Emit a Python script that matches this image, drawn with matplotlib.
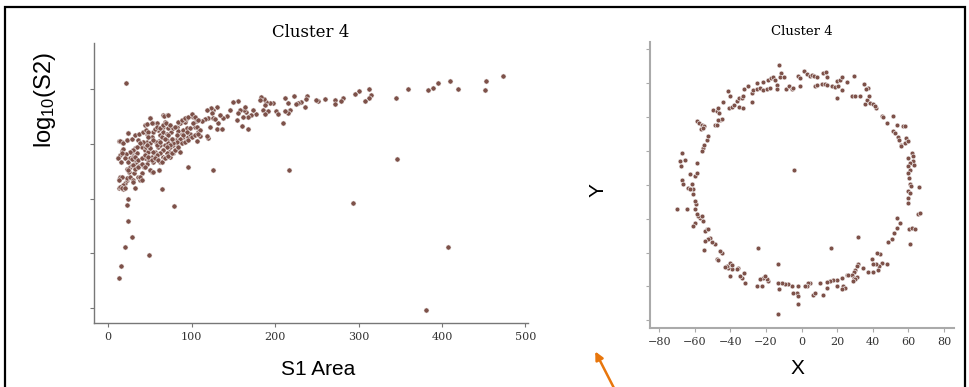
import matplotlib.pyplot as plt
from matplotlib.patches import Rectangle, FancyArrowPatch

# ---------- Cluster 4: S1 area vs log10(S2) ----------

s1_area = [
    21.5, 12.7, 15.1, 20.7, 28.3, 24.3, 23.1, 23.5, 49.4, 78.9, 64.1, 96.0, 125.9, 216.7,
    293.2, 345.8, 406.8, 380.9, 473.3, 452.6, 451.8, 418.7, 409.6, 394.8, 389.6, 382.9,
    359.0, 345.0, 313.1, 300.4, 295.2, 315.1, 313.1, 307.9, 281.3, 279.3, 271.3, 271.3,
    259.4, 251.4, 248.6, 238.6, 237.5, 231.5, 227.5, 222.7, 215.5, 211.6, 235.5, 225.5,
    218.3, 215.5, 211.6, 209.6, 201.6, 203.6, 197.6, 193.6, 189.6, 186.5, 183.7, 181.7,
    187.6, 185.7, 191.6, 187.6, 176.9, 173.7, 171.7, 167.7, 165.7, 162.5, 164.5, 157.8,
    155.8, 153.8, 161.8, 159.8, 167.7, 155.8, 149.8, 145.8, 141.8, 137.8, 133.9, 131.9,
    130.7, 135.9, 129.9, 125.9, 122.7, 117.9, 123.9, 119.9, 125.1, 127.9, 121.9, 119.9,
    117.9, 115.9, 111.9, 107.9, 105.2, 102.0, 100.0, 104.0, 106.8, 107.9, 109.9, 105.9,
    109.9,
    11.2, 14.3, 16.3, 13.5, 16.3, 23.5, 22.3, 12.4, 14.3, 13.5, 16.3, 18.3, 17.5, 20.7,
    22.3, 24.3, 23.1, 26.3, 28.3, 25.5, 26.3, 28.3, 30.3, 29.5, 32.3, 34.3, 31.1, 33.5,
    34.3, 36.3, 31.1, 36.3, 38.2, 40.2, 37.5, 36.3, 38.2, 40.2, 42.2, 44.2, 45.4, 46.2,
    48.2, 49.4, 50.2, 52.2, 53.4, 54.2, 48.2, 46.2, 43.0, 44.2, 50.2, 52.2, 56.2, 57.4,
    58.2, 60.2, 62.2, 61.4, 62.2, 64.1, 60.2, 54.2, 52.2, 57.4, 46.2, 44.2, 50.2, 53.4,
    58.2, 66.1, 70.1, 68.1, 65.3, 66.1, 70.1, 70.9, 68.1, 72.1, 74.1, 73.3, 70.1, 66.1,
    65.3, 62.2, 61.4, 68.1, 74.1, 78.1, 80.1, 77.3, 82.1, 81.3, 76.1, 74.9, 72.1, 78.1,
    82.1, 84.1, 86.1, 88.0, 90.0, 94.0, 92.0, 93.2, 90.0, 86.1, 84.1, 86.1, 94.0, 96.0,
    98.0,
    50.2, 66.9, 72.1, 46.2, 53.0, 24.3, 14.3, 17.5, 22.3, 28.3, 32.3, 37.5, 42.2, 45.0,
    48.2, 56.2, 58.2, 62.2, 66.1, 69.3, 74.1, 80.1, 84.1, 88.0, 92.0, 96.0, 100.0, 104.0,
    108.0, 102.0, 98.0, 94.0, 90.0, 86.1, 82.1, 78.1, 74.1, 70.1, 66.1, 62.2, 58.2, 54.2,
    50.2, 46.2, 42.2, 38.2, 34.3, 30.3, 26.3, 21.5, 18.3, 16.3, 11.2, 15.1, 20.3, 24.3,
    28.3, 32.3, 36.3, 40.2, 44.2, 48.2, 52.2, 56.2, 60.2, 64.1, 68.1, 72.1, 76.1, 80.1,
    84.1, 88.0, 92.0, 96.0, 100.0, 104.0, 108.0, 76.1, 82.1, 72.1, 68.1, 48.2, 54.2, 58.2,
    62.2, 29.5, 32.3, 36.3, 40.2, 44.2, 50.2, 54.2, 61.4, 24.3, 22.3, 26.3, 29.5, 16.3,
    12.4, 18.3, 14.3, 16.3, 20.3, 30.3, 38.2, 40.2, 32.3,
]
log_s2 = [
    6.12, 2.54, 2.76, 3.12, 3.30, 3.59, 3.88, 3.99, 2.96, 3.87, 4.17, 4.58, 4.52, 4.52,
    3.92, 4.73, 3.11, 1.95, 6.24, 6.16, 5.98, 6.01, 6.15, 6.12, 6.02, 5.98,
    6.01, 5.85, 6.01, 5.97, 5.91, 5.89, 5.84, 5.79, 5.85, 5.79, 5.80, 5.74,
    5.83, 5.79, 5.81, 5.88, 5.82, 5.77, 5.75, 5.87, 5.75, 5.84, 5.68, 5.74,
    5.62, 5.57, 5.60, 5.39, 5.60, 5.55, 5.75, 5.75, 5.77, 5.83, 5.86, 5.80,
    5.72, 5.62, 5.60, 5.54, 5.55, 5.62, 5.53, 5.50, 5.59, 5.62, 5.68, 5.62,
    5.57, 5.44, 5.50, 5.33, 5.28, 5.79, 5.77, 5.62, 5.51, 5.48, 5.53, 5.38,
    5.27, 5.27, 5.68, 5.63, 5.66, 5.62, 5.56, 5.47, 5.48, 5.45, 5.31, 5.11,
    5.14, 5.45, 5.42, 5.43, 5.42, 5.50, 5.52, 5.31, 5.31, 5.22, 5.25, 5.06,
    5.14,
    4.75, 4.80, 4.88, 5.05, 5.04, 5.21, 5.07, 4.36, 4.40, 4.20, 4.19, 4.17, 4.23, 4.28,
    4.34, 4.38, 4.55, 4.58, 4.61, 4.49, 4.74, 4.83, 4.89, 4.77, 4.92, 4.84, 4.71, 4.64,
    4.58, 4.57, 4.46, 4.40, 4.34, 4.46, 4.60, 5.07, 4.98, 4.94, 5.02, 4.89, 4.95, 5.04,
    4.86, 4.94, 5.01, 4.77, 4.71, 4.67, 4.71, 4.64, 4.58, 4.74, 4.52, 4.49, 4.86, 4.80,
    4.74, 4.95, 4.98, 5.06, 5.16, 5.13, 5.26, 5.22, 5.13, 5.04, 5.19, 5.35, 5.47, 5.38,
    5.38, 5.53, 5.53, 5.41, 5.32, 5.22, 5.19, 5.07, 4.98, 5.01, 4.95, 4.86, 4.83, 4.89,
    4.77, 4.67, 4.53, 4.74, 4.77, 4.83, 4.89, 4.98, 5.01, 5.07, 5.10, 5.22, 5.29, 5.29,
    5.32, 5.24, 5.38, 5.19, 5.26, 5.29, 5.41, 5.45, 5.13, 5.07, 4.92, 4.86, 5.08, 5.12,
    5.18,
    5.48, 5.52, 5.53, 5.36, 5.38, 5.21, 5.06, 5.02, 5.07, 5.09, 5.16, 5.19, 5.22, 5.25,
    5.22, 5.27, 5.32, 5.29, 5.35, 5.38, 5.35, 5.32, 5.41, 5.44, 5.47, 5.50, 5.54, 5.50,
    5.44, 5.38, 5.29, 5.22, 5.16, 5.10, 5.04, 5.01, 4.98, 4.95, 4.89, 4.83, 4.80, 4.86,
    4.92, 4.98, 5.04, 5.01, 4.95, 4.89, 4.86, 4.82, 4.90, 4.83, 4.75, 4.67, 4.74, 4.67,
    4.72, 4.77, 4.71, 4.74, 4.80, 4.77, 4.71, 4.75, 4.71, 4.67, 4.74, 4.78, 4.83, 4.89,
    4.95, 5.01, 5.04, 5.07, 5.13, 5.16, 5.19, 5.10, 5.16, 5.16, 5.10, 5.13, 5.07, 4.98,
    5.04, 4.61, 4.55, 4.58, 4.64, 4.58, 4.52, 4.49, 4.53, 4.52, 4.37, 4.40, 4.34, 4.40,
    4.34, 4.25, 4.22, 4.19, 4.20, 4.31, 4.40, 4.34, 4.19,
]

# ---------- Cluster 4: X / Y positions ----------

pos_x = [
    -41.2, -40.2, -40.6, -39.3, -38.0, -36.5, -35.0, -33.7, -32.7, -35.0, -33.1, -32.4,
    -29.9, -28.1, -28.1, -27.1, -25.3, -23.4, -21.9, -25.3, -21.5, -19.6, -17.8, -18.7,
    -17.2, -15.9, -15.0, -14.0, -14.0, -12.5, -11.6, -12.2, -9.9, -8.8, -6.9, -5.6, -4.7,
    -1.9, -0.9, -0.9, 1.3, 2.8, 4.7, 6.0, 7.1, 8.4, 7.5, 8.8, 11.2, 13.1, 14.4, 11.8,
    13.7, 14.0, 16.8, 18.7, 20.6, 20.0, 21.5, 22.8, 25.3, 19.6, 22.5, 29.4, 28.1, 29.9,
    32.7, 35.2, 37.4, 36.1, 35.6, 36.9, 38.4, 39.9, 41.7, 41.2, 38.0, 45.1, 45.5, 51.5,
    53.7, 56.7, 58.0, 47.7, 51.5, 52.4, 54.3, 54.8, 56.1, 56.1, 58.0, 58.9, 59.5,
    61.8, 62.3, 59.9, 62.7, 60.8, 63.1, 59.9, 60.8, 59.9, 60.4, 60.8, 61.4, 59.9, 60.8,
    59.9, 59.9, 66.0, 65.1, 66.4, 60.4, 61.8, 63.6, 60.8, 53.3, 55.2, 53.3, 51.8, 50.5,
    48.7,
    48.1, 44.9, 43.6, 43.0, 41.7, 44.0, 42.1, 39.3, 40.2, 37.4, 34.6, 40.2, 31.8, 31.8,
    30.9, 29.9, 29.4, 28.1, 29.4, 30.9, 29.9, 28.6, 25.3, 26.2, 22.5, 19.6, 17.8, 15.9,
    14.0, 10.3, 16.3, 23.4, 24.3, 22.5, 19.6, 14.0, 12.2, 6.2, 7.5, 4.7, 3.7, 2.8, 1.9,
    -1.9, -2.8, -1.9, -4.7, -1.9, -13.1, -5.6, -7.5, -9.4, -11.2, -13.1, -12.5, -13.5,
    -18.7, -19.6, -21.9, -23.4, -25.3, -22.5, -20.6, -24.3, -31.8, -33.7, -34.6, -32.4,
    -35.6, -36.5, -40.2, -39.3, -41.2, -42.1, -40.2, -43.0, -39.3, -44.9, -47.7, -46.8,
    -45.8, -48.7, -50.5, -51.5, -52.4, -54.3, -53.3, -54.3, -52.4, -54.8, -57.1, -55.6,
    -58.0, -56.1, -59.9, -60.8, -58.9, -59.9, -59.3, -59.9, -60.8, -61.2, -61.8, -62.7,
    -59.9, -58.9, -58.9, -63.6, -62.7, -67.4, -66.8, -70.2, -64.6, -68.3, -67.9, -67.4,
    -65.5, -58.6, -57.4, -56.1, -54.8, -56.7, -55.6, -55.2, -56.1, -54.6, -53.3, -52.4,
    -49.6, -47.7, -47.2, -46.2, -48.5, -47.3, -45.8, -44.9, -44.3, -46.8, -4.1,
]
pos_y = [
    55.6, 52.3, 45.4, 46.0, 47.4, 49.3, 51.3, 51.3, 52.3, 46.0, 45.4, 56.6,
    58.6, 54.3, 48.7, 56.2, 56.6, 57.2, 56.2, 60.1, 60.5, 56.6, 57.2, 62.1,
    63.1, 63.5, 62.1, 59.2, 56.6, 71.0, 66.0, 63.5, 63.5, 56.6, 58.2, 56.6, 57.2,
    64.0, 58.2, 63.1, 67.0, 65.7, 64.5, 65.0, 64.0, 63.7, 58.6, 59.2, 59.8, 59.8, 59.2, 66.0,
    66.4, 63.5, 58.6, 57.8, 58.2, 61.0, 62.0, 63.7, 60.7, 51.3, 56.2, 64.0, 52.7, 52.7,
    52.3, 59.8, 57.2, 56.6, 48.0, 50.3, 48.4, 48.0, 45.4, 46.4, 52.3, 40.5, 40.1, 40.9,
    35.6, 34.6, 34.6, 36.2, 31.6, 30.3, 28.3, 26.7, 23.8, 22.8, 24.8, 27.7, 25.7,
    18.9, 17.3, 15.9, 14.0, 13.0, 11.6, 11.0, 9.0, 6.7, 4.1, 0.2, -0.8, -3.7, -4.7,
    -7.7, -11.0, -1.2, -17.5, -16.5, -26.3, -25.4, -26.3, -35.2, -19.5, -22.4, -25.4, -28.7, -31.8,
    -33.6,
    -47.0, -46.0, -48.0, -50.0, -47.0, -41.0, -40.5, -43.6, -47.0, -51.5, -49.0, -51.3, -30.7, -47.0,
    -48.0, -50.0, -51.5, -53.5, -54.8, -54.3, -55.8, -56.8, -53.5, -53.5, -54.8, -56.2, -56.2, -56.8,
    -57.4, -57.8, -37.2, -59.8, -60.7, -61.3, -59.8, -60.7, -65.3, -65.3, -63.7, -58.2, -57.8, -59.8, -59.8,
    -59.8, -63.7, -65.6, -63.7, -70.6, -76.5, -59.8, -58.8, -58.4, -57.8, -57.8, -61.7, -47.0,
    -56.8, -55.8, -54.8, -55.8, -59.8, -59.8, -53.8, -37.2, -57.8, -54.8, -53.8, -51.8,
    -48.9, -49.9, -53.8, -49.9, -48.9, -48.0, -46.0, -48.4, -47.6, -40.5, -43.6, -44.4,
    -39.1, -35.2, -33.8, -31.3, -32.2, -33.2, -26.3, -27.3, -25.9, -38.5, -19.5, -21.4,
    -18.5, -18.5, -22.4, -24.3, -17.3, -14.5, -11.6, -9.6, -5.7, -2.4, 0.2, 6.1,
    5.1, 7.1, 13.0, -1.8, -2.4, 3.1, 0.2, -14.5, -14.5, 14.0, 11.4, 18.5,
    14.5, 37.5, 36.5, 35.6, 34.6, 33.0, 33.6, 21.8, 19.9, 23.8, 26.7, 28.7,
    44.4, 43.4, 45.4, 42.5, 35.6, 35.6, 38.5, 38.9, 48.7, 38.1, 9.0,
]

DOT_COLOR = "#7d5149"
SERIF = "DejaVu Serif"
SANS = "Liberation Sans"

# serif for ticks and titles, sans only for the big axis labels
plt.rcParams["font.family"] = SERIF
plt.rcParams["mathtext.fontset"] = "custom"
plt.rcParams["mathtext.rm"] = SANS
plt.rcParams["mathtext.it"] = SANS


def style_axes(ax, spine_color):
    for side in ("top", "right"):
        ax.spines[side].set_visible(False)
    for side in ("left", "bottom"):
        ax.spines[side].set_color(spine_color)
        ax.spines[side].set_linewidth(1.0)
    ax.tick_params(colors=spine_color, labelcolor="#333333", length=3, width=0.8,
                   labelsize=8)


fig = plt.figure(figsize=(9.7, 3.87), dpi=100)

# left panel
ax1 = fig.add_axes([0.0969, 0.1654, 0.4474, 0.7235])
ax1.scatter(s1_area, log_s2, s=14, color=DOT_COLOR, edgecolors="white", linewidths=0.4)
ax1.set_xlim(-17, 503)
ax1.set_ylim(1.72, 6.85)
ax1.set_xticks([0, 100, 200, 300, 400, 500])
ax1.set_yticks([2, 3, 4, 5, 6])
ax1.set_yticklabels([])
style_axes(ax1, "#777777")
ax1.set_title("Cluster 4", fontsize=12, pad=4)

# right panel
ax2 = fig.add_axes([0.6701, 0.1517, 0.3134, 0.7406])
ax2.scatter(pos_x, pos_y, s=12, color=DOT_COLOR, edgecolors="white", linewidths=0.4)
ax2.set_xlim(-85.2, 85.6)
ax2.set_ylim(-84.7, 84.5)
ax2.set_xticks(range(-80, 81, 20))
ax2.set_yticks(range(-80, 81, 20))
ax2.set_yticklabels([])
style_axes(ax2, "#aaaaaa")
ax2.spines["left"].set_linewidth(1.5)
ax2.spines["bottom"].set_linewidth(1.5)
ax2.set_title("Cluster 4", fontsize=9.5, pad=5)

# axis labels
fig.text(0.046, 0.742, r"log$_{10}$(S2)", family=SANS, fontsize=17,
         rotation=90, ha="center", va="center")
fig.text(0.328, 0.044, "S1 Area", family=SANS, fontsize=15, ha="center", va="center")
fig.text(0.617, 0.509, "Y", family=SANS, fontsize=15, rotation=90,
         ha="center", va="center")
fig.text(0.822, 0.047, "X", family=SANS, fontsize=15, ha="center", va="center")

# frame round the figure
fig.patches.append(Rectangle((5 / 970, -0.02), 960 / 970, 1 - 7 / 387 + 0.02,
                             transform=fig.transFigure, fill=False,
                             edgecolor="black", linewidth=1.6))

# orange pointer arrow
arrow = FancyArrowPatch((616 / 970, -5 / 387), (594 / 970, 1 - 349 / 387),
                        transform=fig.transFigure, arrowstyle="-|>",
                        mutation_scale=12, color="#e8760c", linewidth=1.8)
fig.patches.append(arrow)

fig.savefig("out.png", dpi=100)
